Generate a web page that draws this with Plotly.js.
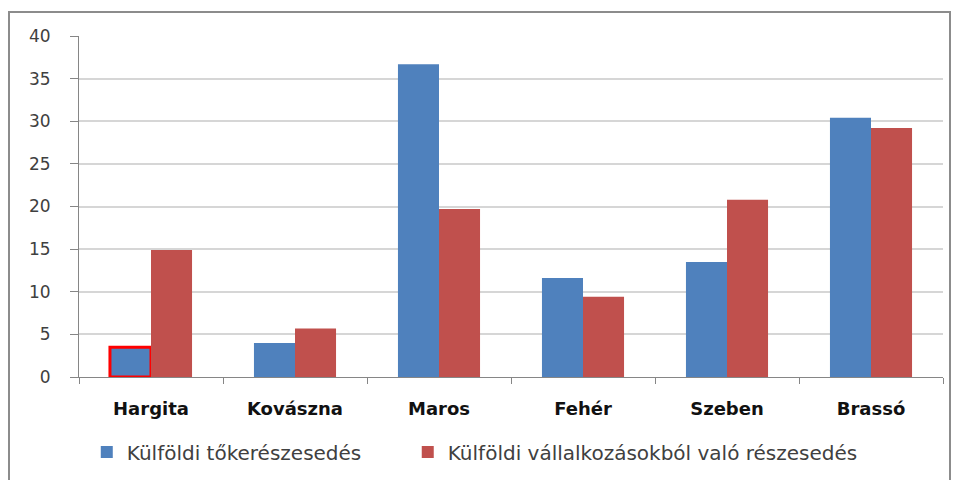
<!DOCTYPE html>
<html><head><meta charset="utf-8">
<script src="https://cdn.plot.ly/plotly-3.0.1.min.js"></script>
<style>html,body{margin:0;padding:0;background:#fff;}</style>
</head><body>
<div id="chart" style="width:960px;height:480px;"></div>
<script>
const categories = ["Hargita", "Kovászna", "Maros", "Fehér", "Szeben", "Brassó"];
const seriesNames = ["Külföldi tőkerészesedés", "Külföldi vállalkozásokból való részesedés"];
const tokeValues = [3.5, 4.0, 36.7, 11.6, 13.5, 30.4];
const vallalkozasValues = [14.9, 5.7, 19.7, 9.4, 20.8, 29.2];
const yTicks = [0, 5, 10, 15, 20, 25, 30, 35, 40];

const highlightLineColor = categories.map((c, i) => i === 0 ? "#ff0000" : "rgba(0,0,0,0)");
const highlightLineWidth = categories.map((c, i) => i === 0 ? 3 : 0);

const font = "DejaVu Sans, sans-serif";
const blue = "#4F81BD", red = "#C0504D";
const traces = [
  {type: "bar", name: seriesNames[0], x: categories, y: tokeValues, showlegend: false,
   offsetgroup: "a", marker: {color: blue, line: {color: highlightLineColor, width: highlightLineWidth}}},
  {type: "bar", name: seriesNames[1], x: categories, y: vallalkozasValues, legend: "legend2",
   offsetgroup: "b", marker: {color: red, line: {width: 0}}},
  {type: "bar", name: seriesNames[0], x: [categories[0]], y: [null], legend: "legend",
   offsetgroup: "a", marker: {color: blue, line: {width: 0}}, hoverinfo: "skip"}
];
const legendFont = {family: font, size: 20, color: "#404040"};
const layout = {
  width: 960, height: 480,
  margin: {l: 79, r: 17, t: 36, b: 103, autoexpand: false},
  paper_bgcolor: "#fff", plot_bgcolor: "#fff",
  barmode: "group", bargap: 0.43, bargroupgap: 0,
  font: {family: font, size: 16, color: "#404040"},
  xaxis: {
    type: "category", tickson: "boundaries", ticks: "outside", ticklen: 6,
    tickcolor: "#868686", showline: true, linecolor: "#868686", linewidth: 1,
    showgrid: false, zeroline: false, ticklabelstandoff: 15, automargin: false,
    tickfont: {family: font, size: 18, color: "#111", weight: "bold"}
  },
  yaxis: {
    range: [0, 40], tickvals: yTicks, ticktext: yTicks.map(String),
    ticks: "outside", ticklen: 8, tickcolor: "#868686", automargin: false,
    showline: true, linecolor: "#868686", linewidth: 1,
    gridcolor: "#d6d6d6", gridwidth: 1.5, zeroline: false, ticklabelstandoff: 16,
    tickfont: {family: font, size: 17, color: "#404040"}
  },
  showlegend: true,
  legend: {orientation: "h", x: 0.009, xanchor: "left", y: -0.22, yanchor: "middle",
           font: legendFont, itemwidth: 30},
  legend2: {orientation: "h", x: 0.3805, xanchor: "left", y: -0.22, yanchor: "middle",
           font: legendFont, itemwidth: 30},
  shapes: [
    {type: "rect", xref: "paper", yref: "paper",
     x0: -70/864, x1: 1 + 7/864, y0: -115/341, y1: 1 + 24/341,
     line: {color: "#8c8c8c", width: 2}, fillcolor: "rgba(0,0,0,0)", layer: "below"}
  ]
};
Plotly.newPlot("chart", traces, layout, {displayModeBar: false});
</script>
</body></html>
